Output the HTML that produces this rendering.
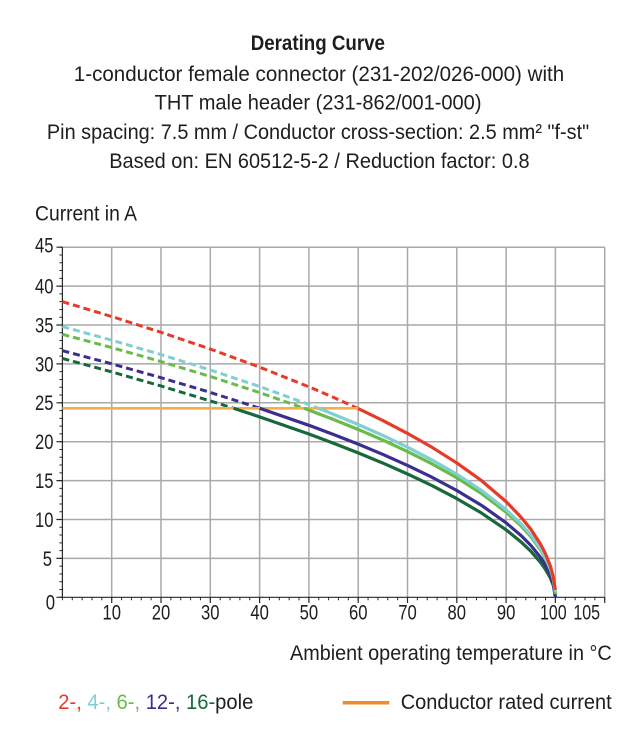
<!DOCTYPE html>
<html>
<head>
<meta charset="utf-8">
<style>
  html,body{margin:0;padding:0;background:#ffffff;}
  svg{display:block;}
  text{font-family:"Liberation Sans", Arial, sans-serif;font-size:21px;fill:#1e1e1e;}
</style>
</head>
<body>
<svg width="634" height="742" viewBox="0 0 634 742" xmlns="http://www.w3.org/2000/svg">
  <rect x="0" y="0" width="634" height="742" fill="#ffffff"/>

  <!-- Titles -->
  <text x="250.7" y="50" font-weight="bold" textLength="134.3" lengthAdjust="spacingAndGlyphs">Derating Curve</text>
  <text x="73.8" y="81" textLength="490.4" lengthAdjust="spacingAndGlyphs">1-conductor female connector (231-202/026-000) with</text>
  <text x="154.6" y="109.5" textLength="326.9" lengthAdjust="spacingAndGlyphs">THT male header (231-862/001-000)</text>
  <text x="46.9" y="139" textLength="542.3" lengthAdjust="spacingAndGlyphs">Pin spacing: 7.5 mm / Conductor cross-section: 2.5 mm² "f-st"</text>
  <text x="109.2" y="168" textLength="420.4" lengthAdjust="spacingAndGlyphs">Based on: EN 60512-5-2 / Reduction factor: 0.8</text>

  <text x="35" y="220.5" textLength="102" lengthAdjust="spacingAndGlyphs">Current in A</text>

  <!-- Grid -->
  <g stroke="#a9a9a9" stroke-width="1.5" fill="none">
    <path d="M111.7,247.2V597.3 M161.0,247.2V597.3 M210.3,247.2V597.3 M259.6,247.2V597.3 M308.9,247.2V597.3 M358.2,247.2V597.3 M407.5,247.2V597.3 M456.8,247.2V597.3 M506.1,247.2V597.3 M555.4,247.2V597.3 M604.7,247.2V597.3"/>
    <path d="M62.4,558.4H604.7 M62.4,519.5H604.7 M62.4,480.6H604.7 M62.4,441.7H604.7 M62.4,402.8H604.7 M62.4,363.9H604.7 M62.4,325.0H604.7 M62.4,286.1H604.7 M62.4,247.2H604.7"/>
  </g>

  <!-- Axes -->
  <g stroke="#2a2a2a" fill="none">
    <path d="M62.4,247.2V597.3H604.7" stroke-width="1.2"/>
    <path d="M60.9,597.8V246.7" stroke-width="3" stroke-dasharray="1 6.78"/>
    <path d="M61.9,598.8H606" stroke-width="3" stroke-dasharray="1 8.86"/>
    <path d="M56.4,597.3H62.4 M56.4,558.4H62.4 M56.4,519.5H62.4 M56.4,480.6H62.4 M56.4,441.7H62.4 M56.4,402.8H62.4 M56.4,363.9H62.4 M56.4,325.0H62.4 M56.4,286.1H62.4 M56.4,247.2H62.4" stroke-width="1.2"/>
    <path d="M111.7,597.3V603 M161.0,597.3V603 M210.3,597.3V603 M259.6,597.3V603 M308.9,597.3V603 M358.2,597.3V603 M407.5,597.3V603 M456.8,597.3V603 M506.1,597.3V603 M555.4,597.3V603 M604.7,597.3V603" stroke-width="1.2"/>
  </g>

  <!-- Y tick labels -->
  <g text-anchor="end">
    <text x="55" y="609.5" textLength="9.3" lengthAdjust="spacingAndGlyphs">0</text>
    <text x="52" y="565.8" textLength="9.3" lengthAdjust="spacingAndGlyphs">5</text>
    <text x="53.5" y="526.9" textLength="18.5" lengthAdjust="spacingAndGlyphs">10</text>
    <text x="53.5" y="488.0" textLength="18.5" lengthAdjust="spacingAndGlyphs">15</text>
    <text x="53.5" y="449.1" textLength="18.5" lengthAdjust="spacingAndGlyphs">20</text>
    <text x="53.5" y="410.2" textLength="18.5" lengthAdjust="spacingAndGlyphs">25</text>
    <text x="53.5" y="371.3" textLength="18.5" lengthAdjust="spacingAndGlyphs">30</text>
    <text x="53.5" y="332.4" textLength="18.5" lengthAdjust="spacingAndGlyphs">35</text>
    <text x="53.5" y="293.5" textLength="18.5" lengthAdjust="spacingAndGlyphs">40</text>
    <text x="53.5" y="252.7" textLength="18.5" lengthAdjust="spacingAndGlyphs">45</text>
  </g>

  <!-- X tick labels -->
  <g text-anchor="middle">
    <text x="111.7" y="619.3" textLength="18.5" lengthAdjust="spacingAndGlyphs">10</text>
    <text x="161.0" y="619.3" textLength="18.5" lengthAdjust="spacingAndGlyphs">20</text>
    <text x="210.3" y="619.3" textLength="18.5" lengthAdjust="spacingAndGlyphs">30</text>
    <text x="259.6" y="619.3" textLength="18.5" lengthAdjust="spacingAndGlyphs">40</text>
    <text x="308.9" y="619.3" textLength="18.5" lengthAdjust="spacingAndGlyphs">50</text>
    <text x="358.2" y="619.3" textLength="18.5" lengthAdjust="spacingAndGlyphs">60</text>
    <text x="407.5" y="619.3" textLength="18.5" lengthAdjust="spacingAndGlyphs">70</text>
    <text x="456.8" y="619.3" textLength="18.5" lengthAdjust="spacingAndGlyphs">80</text>
    <text x="506.1" y="619.3" textLength="18.5" lengthAdjust="spacingAndGlyphs">90</text>
    <text x="553.3" y="619.3" textLength="26.7" lengthAdjust="spacingAndGlyphs">100</text>
    <text x="586.7" y="619.3" textLength="26.7" lengthAdjust="spacingAndGlyphs">105</text>
  </g>

  <!-- Dashed curves -->
  <g fill="none" stroke-width="3" stroke-dasharray="7 4" stroke-linejoin="round">
    <path stroke="#e63b2a" d="M62.4,301.66 L111.7,316.54 L161.0,332.28 L210.3,349.06 L259.6,367.14 L308.9,386.80 L333.5,397.39 L358.2,408.60"/>
    <path stroke="#80cfd2" d="M62.4,326.56 L111.7,340.18 L161.0,354.60 L210.3,369.97 L259.6,386.52 L308.9,404.53 L318.5,408.25"/>
    <path stroke="#69bb4a" d="M62.4,334.34 L111.7,347.57 L161.0,361.57 L210.3,376.50 L259.6,392.57 L304.0,408.25"/>
    <path stroke="#3a2f8e" d="M62.4,350.67 L111.7,363.82 L161.0,377.69 L210.3,392.42 L259.6,408.21"/>
    <path stroke="#17683a" d="M62.4,358.45 L111.7,371.88 L161.0,385.99 L210.3,400.93 L233.5,408.25"/>
  </g>

  <!-- Conductor rated current -->
  <path d="M62.4,408.3H358.2" stroke="#f6ae45" stroke-width="2.6" fill="none"/>

  <!-- Solid curves -->
  <g fill="none" stroke-width="3.2" stroke-linejoin="round" stroke-linecap="butt">
    <path stroke="#17683a" d="M233.5,408.25 L259.6,416.87 L308.9,434.05 L333.5,443.22 L358.2,452.88 L382.9,463.08 L407.5,473.98 L432.2,485.72 L456.8,498.59 L481.5,513.01 L506.1,529.83 L520.9,541.83 L530.8,551.19 L540.6,562.46 L545.5,569.41 L550.5,578.24 L553.4,585.77 L555.4,597.3"/>
    <path stroke="#3a2f8e" d="M259.6,408.21 L308.9,425.31 L333.5,434.48 L358.2,444.15 L382.9,454.43 L407.5,465.43 L432.2,477.35 L456.8,490.50 L481.5,505.35 L506.1,522.82 L520.9,535.43 L530.8,545.37 L540.6,557.47 L545.5,565.05 L550.5,574.81 L553.4,583.33 L555.4,597.3"/>
    <path stroke="#69bb4a" d="M304.0,408.25 L308.9,410.07 L333.5,419.48 L358.2,429.46 L382.9,440.09 L407.5,451.53 L432.2,463.98 L456.8,477.79 L481.5,493.51 L506.1,512.21 L520.9,525.85 L530.8,536.71 L540.6,550.13 L545.5,558.63 L550.5,569.77 L553.4,579.73 L555.4,594"/>
    <path stroke="#80cfd2" d="M318.5,408.25 L333.5,414.22 L358.2,424.49 L382.9,435.44 L407.5,447.21 L432.2,460.04 L456.8,474.25 L481.5,490.44 L506.1,509.69 L520.9,523.74 L530.8,534.92 L540.6,548.73 L545.5,557.49 L550.5,568.95 L553.4,579.21 L555.4,592"/>
    <path stroke="#e63b2a" d="M358.2,408.6 L382.9,420.55 L407.5,433.41 L432.2,447.42 L456.8,462.94 L481.5,480.61 L506.1,501.64 L520.9,516.97 L530.8,529.18 L540.6,544.27 L545.5,553.82 L550.5,566.35 L553.4,577.54 L555.4,590"/>
  </g>

  <!-- X axis title -->
  <text x="290" y="660" textLength="321.7" lengthAdjust="spacingAndGlyphs">Ambient operating temperature in °C</text>

  <!-- Legend -->
  <text x="58.3" y="709" textLength="195" lengthAdjust="spacingAndGlyphs"><tspan fill="#e63b2a">2-,</tspan><tspan fill="#80cfd2"> 4-,</tspan><tspan fill="#69bb4a"> 6-,</tspan><tspan fill="#3a2f8e"> 12-,</tspan><tspan fill="#17683a"> 16-</tspan><tspan fill="#1e1e1e">pole</tspan></text>
  <path d="M342.7,702.7H389.3" stroke="#f08a2a" stroke-width="3.5"/>
  <text x="400.7" y="709" textLength="211" lengthAdjust="spacingAndGlyphs">Conductor rated current</text>
</svg>
</body>
</html>
